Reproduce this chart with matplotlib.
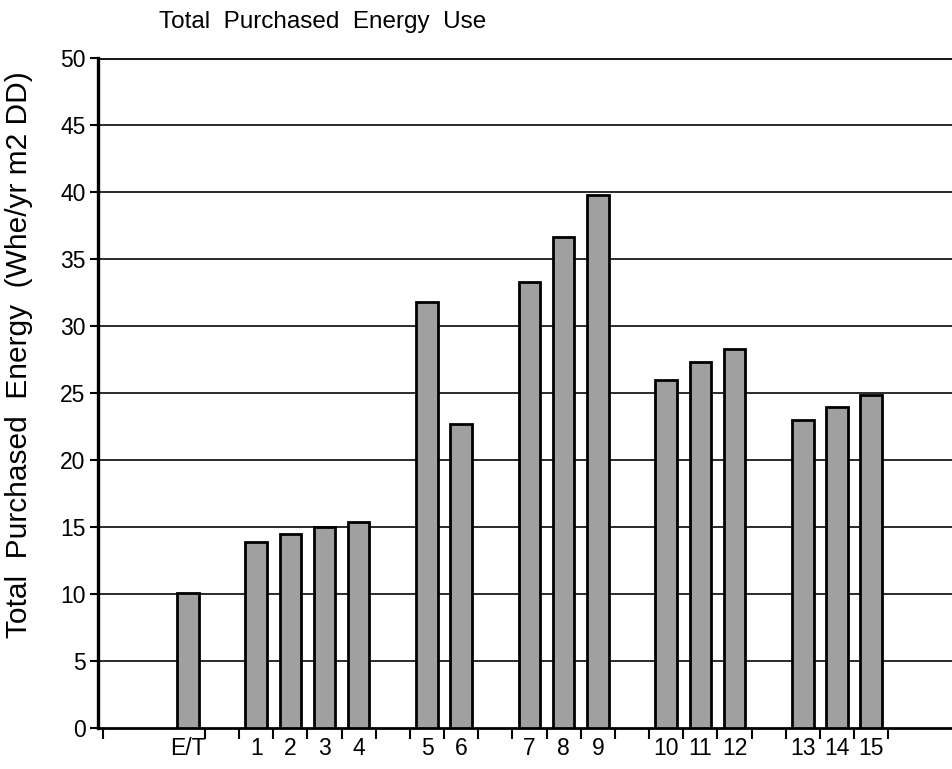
import matplotlib
matplotlib.use("Agg")
import matplotlib.pyplot as plt
import numpy as np

plt.rcParams['font.family'] = ['Liberation Sans', 'DejaVu Sans']

# ---- data ----
groups = [["E/T"], ["1", "2", "3", "4"], ["5", "6"], ["7", "8", "9"],
          ["10", "11", "12"], ["13", "14", "15"]]
values = [10.1, 13.9, 14.5, 15.0, 15.4, 31.8, 22.7, 33.3, 36.7, 39.8,
          26.0, 27.3, 28.3, 23.0, 24.0, 24.9]
title = "Total  Purchased  Energy  Use"
ylabel = "Total  Purchased  Energy  (Whe/yr m2 DD)"
yticks = [0, 5, 10, 15, 20, 25, 30, 35, 40, 45, 50]

# ---- layout: slots with a gap between groups ----
labels, centers = [], []
slot = 2
for g in groups:
    for lab in g:
        labels.append(lab)
        centers.append(slot + 0.5)
        slot += 1
    slot += 1
last_slot = slot - 1

W, H = 952, 769
fig = plt.figure(figsize=(W / 100, H / 100), dpi=100)
left_px, bottom_px, top_px = 98, 728.3, 58.3
slot_px, x0_px = 34.16, 102.5
ax = fig.add_axes([left_px / W, 1 - bottom_px / H, 1 - left_px / W,
                   (bottom_px - top_px) / H])
ax.set_xlim(-(x0_px - left_px) / slot_px, (W - x0_px) / slot_px)
ax.set_ylim(0, 50)

for y in yticks[1:]:
    ax.axhline(y, color='#1a1a1a', lw=2.2 if y == 50 else 1.3, zorder=1)

ax.bar(centers, values, width=0.63, color='#a0a0a0', edgecolor='black',
       linewidth=2.0, zorder=3)

for s in ['top', 'right']:
    ax.spines[s].set_visible(False)
ax.spines['left'].set_linewidth(2.4)
ax.spines['bottom'].set_linewidth(2.0)

ax.set_yticks(yticks)
ax.set_yticklabels([str(v) for v in yticks], fontsize=16.5)
ax.tick_params(axis='y', direction='out', length=6, width=1.5, pad=3)

ax.set_xticks(centers)
ax.set_xticklabels(labels, fontsize=16.5)
ax.tick_params(axis='x', which='major', length=0, pad=6)
ax.set_xticks([0] + list(range(3, last_slot + 1)), minor=True)
ax.tick_params(axis='x', which='minor', direction='out', length=8, width=1.5)

fig.text(323 / W, 1 - 22 / H, title, ha='center', va='center', fontsize=17.5)
fig.text(19 / W, 1 - 355 / H, ylabel, ha='center', va='center',
         rotation=90, fontsize=21.5)

fig.savefig("out.png", dpi=100)
